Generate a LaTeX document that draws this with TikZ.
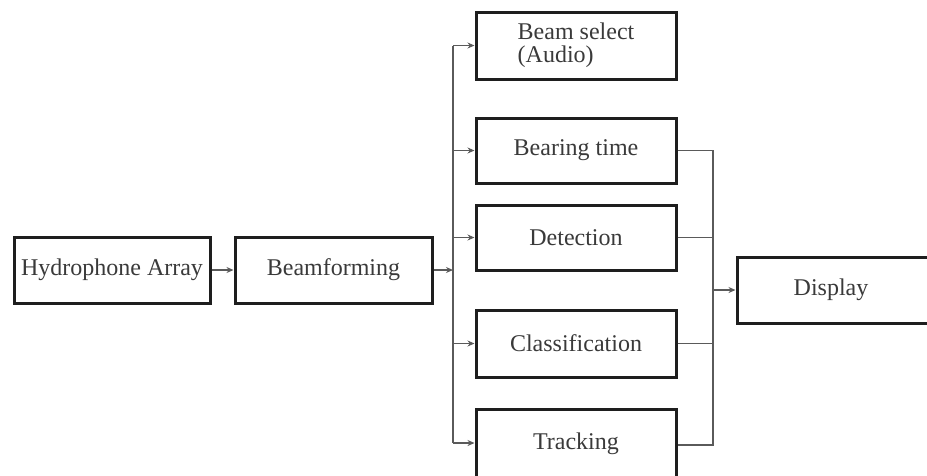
\documentclass[tikz,border=0pt]{standalone}
\usepackage{fontspec}
\setmainfont{Liberation Serif}
\usetikzlibrary{arrows.meta}
\definecolor{boxline}{HTML}{1E1E1E}
\definecolor{connline}{HTML}{5A5A5A}
\definecolor{txt}{HTML}{3A3A3A}
\tikzset{
  blockbox/.style={draw=boxline, line width=3pt, fill=white, minimum height=66pt,
    inner sep=0pt, font=\fontsize{24}{23}\selectfont, text=txt},
  conn/.style={draw=connline, line width=1.8pt},
  arr/.style={conn, -{Stealth[length=7pt,width=6pt]}}
}
\begin{document}
\begin{tikzpicture}[x=1pt,y=-1pt]
\useasboundingbox (0,0) rectangle (927,475);
\clip (0,0) rectangle (927,475);
\node[blockbox, minimum width=196pt] (hyd) at (112,270) {Hydrophone Array};
\node[blockbox, minimum width=197pt] (bf) at (333.5,270) {Beamforming};
\node[blockbox, minimum width=200pt, minimum height=67pt, align=left] (bs) at (576,45.5) {Beam select\\(Audio)};
\node[blockbox, minimum width=200pt, minimum height=65pt] (bt) at (576,150.5) {Bearing time};
\node[blockbox, minimum width=200pt, minimum height=65pt] (det) at (576,237.5) {Detection};
\node[blockbox, minimum width=200pt, minimum height=67pt] (cls) at (576,343.5) {Classification};
\node[blockbox, minimum width=200pt, minimum height=74pt, text depth=10pt] (trk) at (576,446) {Tracking};
\node[blockbox, minimum width=220pt, minimum height=66pt] (disp) at (847,290) {\hspace*{-32pt}Display};
% left bus
\coordinate (lb) at (453,270);
\coordinate (lbt) at (453,45.5);
\coordinate (lbb) at (453,443);
\draw[arr] (hyd.east) -- (bf.west);
\draw[arr] (bf.east) -- (lb);
\draw[conn] (lbt) -- (lbb);
\draw[arr] (lbt) -- (bs.west);
\draw[arr] (453,150.5) -- (bt.west);
\draw[arr] (453,237.5) -- (det.west);
\draw[arr] (453,343.5) -- (cls.west);
\draw[arr] (lbb) -- (trk.west |- lbb);
% right bus
\coordinate (rbt) at (713,150.5);
\coordinate (rbb) at (713,445);
\coordinate (rbm) at (713,290);
\draw[conn] (bt.east) -- (rbt) -- (rbb) -- (trk.east |- rbb);
\draw[conn] (det.east) -- (713,237.5);
\draw[conn] (cls.east) -- (713,343.5);
\draw[arr] (rbm) -- (disp.west);
\end{tikzpicture}
\end{document}
